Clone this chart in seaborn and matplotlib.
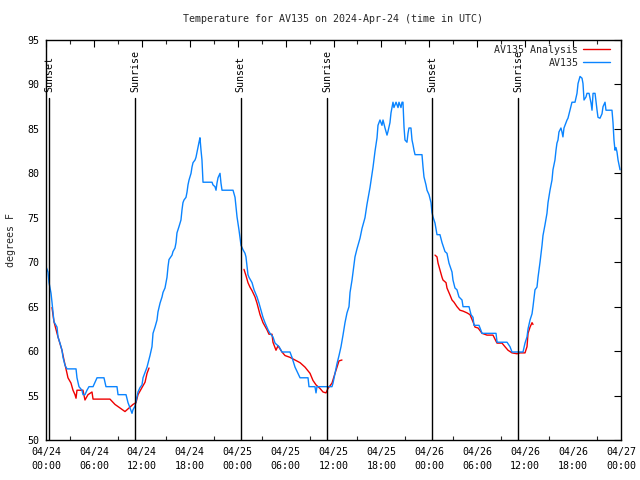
import numpy as np
import pandas as pd
import matplotlib
matplotlib.use("Agg")
import matplotlib.pyplot as plt
import matplotlib.dates as mdates
import seaborn as sns
from matplotlib.lines import Line2D

# ---------------- data ----------------
start = pd.Timestamp("2024-04-24 00:00")

# AV135 observations: hours after start, degrees F
obs_hours = [
    0.0, 0.25, 0.38, 0.63, 0.75, 0.88, 1.0, 1.38, 1.5, 1.75,
    2.0, 2.13, 2.38, 2.63, 3.76, 3.88, 4.13, 4.5, 4.63, 4.88,
    5.13, 5.38, 5.89, 6.39, 7.26, 7.51, 8.89, 9.02, 10.02, 10.27,
    10.52, 10.77, 10.89, 11.14, 11.4, 11.52, 11.77, 12.02, 12.15, 12.4,
    12.65, 13.02, 13.27, 13.40, 13.65, 13.90, 14.02, 14.28, 14.53, 14.65,
    14.90, 15.15, 15.28, 15.40, 15.78, 15.90, 16.15, 16.28, 16.40, 16.65,
    16.90, 17.03, 17.15, 17.28, 17.53, 17.66, 17.78, 17.91, 18.16, 18.28,
    18.41, 18.66, 18.78, 18.91, 19.03, 19.16, 19.28, 19.41, 19.53, 19.66,
    20.79, 20.91, 21.16, 21.29, 21.41, 21.54, 21.79, 21.91, 22.04, 23.42,
    23.67, 23.79, 23.92, 24.04, 24.17, 24.29, 24.42, 24.67, 24.92, 25.04,
    25.17, 25.29, 25.42, 25.80, 26.05, 26.42, 26.67, 26.92, 27.17, 27.42,
    27.80, 28.05, 28.42, 28.68, 29.18, 29.55, 30.55, 30.80, 31.18, 31.81,
    32.81, 32.93, 33.68, 33.81, 33.93, 35.81, 35.94, 36.19, 36.44, 36.69,
    36.94, 37.19, 37.44, 37.69, 37.94, 38.07, 38.32, 38.69, 38.94, 39.32,
    39.57, 39.94, 40.19, 40.57, 40.95, 41.2, 41.45, 41.57, 41.82, 42.07,
    42.2, 42.45, 42.7, 42.82, 43.07, 43.2, 43.45, 43.57, 43.83, 44.08,
    44.2, 44.45, 44.58, 44.7, 44.83, 44.95, 45.2, 45.33, 45.45, 45.7,
    45.83, 45.96, 46.08, 46.21, 47.08, 47.21, 47.33, 47.58, 47.71, 47.96,
    48.21, 48.33, 48.46, 48.71, 48.96, 49.33, 49.59, 49.96, 50.21, 50.46,
    50.84, 50.96, 51.21, 51.46, 51.71, 52.09, 52.22, 52.97, 53.22, 53.47,
    53.59, 54.22, 54.6, 56.35, 56.48, 57.73, 58.1, 58.35, 59.73, 59.98,
    60.23, 60.36, 60.61, 60.86, 60.98, 61.23, 61.48, 61.61, 61.86, 62.11,
    62.23, 62.48, 62.73, 62.86, 63.11, 63.36, 63.48, 63.73, 63.86, 63.98,
    64.11, 64.23, 64.48, 64.61, 64.73, 64.86, 64.99, 65.24, 65.36, 65.61,
    65.86, 66.24, 66.49, 66.62, 66.87, 67.12, 67.24, 67.37, 67.62, 67.74,
    68.0, 68.25, 68.37, 68.5, 68.75, 69.0, 69.12, 69.37, 69.62, 69.75,
    70.0, 70.12, 70.25, 70.87, 71.0, 71.12, 71.25, 71.37, 71.5, 71.63,
    71.88,
]
obs_temp = [
    69.5, 68.9, 67.7, 66.5, 65.5, 64.3, 63.3, 62.7, 61.6, 60.9,
    60.1, 59.3, 58.4, 58.0, 58.0, 57.0, 56.0, 55.6, 55.1, 55.1,
    55.6, 56.0, 56.0, 57.0, 57.0, 56.0, 56.0, 55.1, 55.1, 54.2,
    53.6, 53.0, 53.4, 53.8, 54.9, 55.4, 55.9, 56.2, 57.0, 57.6,
    58.2, 59.5, 60.5, 62.0, 62.7, 63.5, 64.4, 65.4, 66.1, 66.6,
    67.1, 68.3, 69.5, 70.3, 70.8, 71.2, 71.6, 72.2, 73.3, 74.0,
    74.75, 75.9, 76.7, 77.0, 77.3, 77.9, 78.7, 79.25, 80.0, 80.7,
    81.2, 81.5, 81.8, 82.4, 83.0, 83.5, 84.0, 82.6, 81.5, 79.0,
    79.0, 78.7, 78.5, 78.1, 78.9, 79.5, 80.0, 78.9, 78.1, 78.1,
    77.3, 76.2, 75.1, 74.4, 73.6, 72.8, 71.9, 71.4, 71.0, 70.6,
    69.5, 68.6, 68.3, 67.7, 66.9, 66.1, 65.4, 64.6, 63.8, 63.2,
    62.4, 62.0, 61.6, 60.9, 60.5, 59.9, 59.9, 59.3, 58.2, 57.0,
    57.0, 56.0, 56.0, 55.3, 56.0, 56.0, 56.4, 57.5, 58.6, 59.5,
    60.5, 61.8, 63.2, 64.3, 65.0, 66.6, 68.0, 70.6, 71.5, 72.7,
    73.8, 75.0, 76.5, 78.4, 80.7, 82.5, 84.0, 85.4, 86.0, 85.4,
    86.0, 85.1, 84.3, 84.7, 85.7, 86.8, 88.0, 87.4, 88.0, 87.4,
    88.0, 87.4, 88.0, 88.0, 85.2, 83.75, 83.5, 84.5, 85.1, 85.1,
    83.75, 83.2, 82.6, 82.1, 82.1, 80.7, 79.6, 78.7, 78.1, 77.6,
    76.7, 75.6, 75.1, 74.4, 73.1, 73.1, 72.2, 71.2, 71.0, 69.9,
    68.9, 68.0, 67.1, 66.9, 66.1, 65.75, 65.0, 65.0, 64.1, 63.8,
    62.9, 62.9, 62.0, 62.0, 61.0, 61.0, 60.5, 59.9, 59.9, 60.9,
    61.6, 62.5, 63.5, 64.2, 65.0, 66.9, 67.2, 68.3, 70.0, 71.9,
    73.0, 74.2, 75.5, 76.7, 78.1, 79.25, 80.4, 81.5, 82.6, 83.4,
    83.75, 84.65, 85.1, 84.65, 84.1, 85.1, 85.4, 86.0, 86.2, 87.1,
    88.0, 88.0, 89.0, 90.1, 90.9, 90.7, 90.1, 88.25, 88.6, 89.0,
    89.0, 87.9, 87.1, 89.0, 89.0, 87.1, 86.3, 86.2, 86.7, 87.5,
    88.0, 87.1, 87.1, 87.1, 85.7, 83.75, 82.6, 82.9, 82.4, 81.5,
    80.4,
]

# AV135 Analysis: three overnight segments
ana1_hours = [0.75, 1.0, 1.5, 2.0, 2.25, 2.63, 2.75, 3.13, 3.38, 3.63,
              3.76, 3.88, 4.51, 4.63, 4.88, 5.26, 5.76, 5.89, 8.01, 8.64,
              9.27, 9.89, 10.27, 10.89, 11.27, 11.52, 12.02, 12.4, 12.65, 12.9]
ana1_temp = [64.9, 63.3, 61.6, 60.1, 59.0, 57.5, 57.0, 56.4, 55.6, 55.1,
             54.7, 55.6, 55.6, 55.6, 54.5, 55.1, 55.4, 54.6, 54.6, 54.0,
             53.6, 53.2, 53.5, 54.0, 54.2, 55.1, 55.9, 56.5, 57.5, 58.1]
ana2_hours = [24.79, 25.04, 25.29, 25.54, 25.8, 26.17, 26.42, 26.8, 27.17, 27.67,
              27.92, 28.3, 28.42, 28.8, 29.05, 29.55, 29.93, 30.55, 31.18, 31.81,
              32.43, 33.06, 33.43, 33.81, 34.31, 34.69, 35.06, 35.31, 35.81, 36.19,
              36.44, 36.69, 37.06]
ana2_temp = [69.2, 68.5, 67.7, 67.2, 66.8, 66.1, 65.4, 64.1, 63.2, 62.4,
             61.9, 61.9, 61.0, 60.1, 60.6, 59.9, 59.5, 59.3, 59.0, 58.7,
             58.2, 57.5, 56.7, 56.2, 55.8, 55.4, 55.3, 55.8, 56.4, 57.5,
             58.2, 58.9, 59.0]
ana3_hours = [48.71, 48.96, 49.09, 49.34, 49.59, 49.71, 50.09, 50.21, 50.59, 50.84,
              51.09, 51.46, 51.84, 52.22, 52.72, 53.09, 53.47, 53.72, 54.1, 54.6,
              55.22, 55.97, 56.47, 57.1, 57.47, 57.85, 58.35, 58.98, 59.35, 59.98,
              60.23, 60.36, 60.61, 60.86, 60.98]
ana3_temp = [70.8, 70.6, 69.9, 69.1, 68.3, 68.0, 67.7, 67.1, 66.3, 65.75,
             65.5, 65.0, 64.6, 64.5, 64.3, 64.1, 63.3, 62.7, 62.6, 62.0,
             61.8, 61.8, 60.9, 60.9, 60.5, 60.1, 59.8, 59.7, 59.8, 59.8,
             60.5, 62.0, 62.7, 63.2, 63.0]

sun_labels = ["Sunset", "Sunrise", "Sunset", "Sunrise", "Sunset", "Sunrise"]
sun_hours = [0.4, 11.15, 24.37, 35.22, 48.37, 59.13]

title = "Temperature for AV135 on 2024-Apr-24 (time in UTC)"
ana_label = "AV135 Analysis"
obs_label = "AV135"

# ---------------- build frames ----------------
def to_time(h):
    return start + pd.to_timedelta(np.asarray(h, dtype=float), unit="h")

obs_df = pd.DataFrame({"time": to_time(obs_hours), "temp": obs_temp})
ana_segments = []
for i, (hh, tt) in enumerate([(ana1_hours, ana1_temp), (ana2_hours, ana2_temp),
                              (ana3_hours, ana3_temp)]):
    ana_segments.append(pd.DataFrame({"time": to_time(hh), "temp": tt, "seg": i}))
ana_df = pd.concat(ana_segments, ignore_index=True)

# ---------------- style ----------------
sns.set_style("white")
plt.rcParams["font.family"] = ["DejaVu Sans Mono"]
FS = 7.2
RED = "#ee0000"
BLUE = "#0a84ff"

fig = plt.figure(figsize=(6.4, 4.8), dpi=100)
ax = fig.add_axes([46 / 640, 1 - 440 / 480, 575 / 640, 400 / 480])

sns.lineplot(data=ana_df, x="time", y="temp", units="seg", estimator=None,
             sort=False, color=RED, lw=1.0, ax=ax, legend=False)
sns.lineplot(data=obs_df, x="time", y="temp", estimator=None, sort=False,
             color=BLUE, lw=1.0, ax=ax, legend=False)

# sunrise / sunset markers
ymin, ymax = 50, 95
line_top = 88.5
for lab, h in zip(sun_labels, sun_hours):
    t = start + pd.Timedelta(hours=h)
    ax.axvline(t, ymin=0, ymax=(line_top - ymin) / (ymax - ymin), color="black", lw=1.0)
    ax.text(t, line_top + 0.6, lab, rotation=90, ha="center", va="bottom",
            fontsize=FS, color="black")

ax.set_xlim(start, start + pd.Timedelta(hours=72))
ax.set_ylim(ymin, ymax)
ax.set_yticks(np.arange(50, 96, 5))

ax.xaxis.set_major_locator(mdates.HourLocator(byhour=[0, 6, 12, 18]))
ax.xaxis.set_minor_locator(mdates.HourLocator(byhour=[3, 9, 15, 21]))
ax.xaxis.set_major_formatter(mdates.DateFormatter("%m/%d\n%H:%M"))

ax.tick_params(axis="both", which="major", direction="in", length=5, width=0.8,
               top=True, right=True, labelsize=FS, pad=5, colors="black")
ax.tick_params(axis="x", which="minor", direction="in", length=3, width=0.8,
               top=True, bottom=True)
for lab in ax.get_xticklabels():
    lab.set_linespacing(1.5)
for s in ax.spines.values():
    s.set_color("black")
    s.set_linewidth(1.0)

ax.set_xlabel("")
ax.set_ylabel("degrees F", fontsize=FS, labelpad=8)
fig.text(333 / 640, 1 - 19 / 480, title, ha="center", va="center", fontsize=FS)

handles = [Line2D([], [], color=RED, lw=1.0), Line2D([], [], color=BLUE, lw=1.0)]
ax.legend(handles, [ana_label, obs_label], loc="upper right",
          bbox_to_anchor=(1 - 6 / 575, 1.0), frameon=False,
          markerfirst=False, fontsize=FS, handlelength=2.7, handletextpad=0.45,
          labelspacing=0.3, borderaxespad=0.3, borderpad=0.2)

fig.savefig("out.png", dpi=100)
